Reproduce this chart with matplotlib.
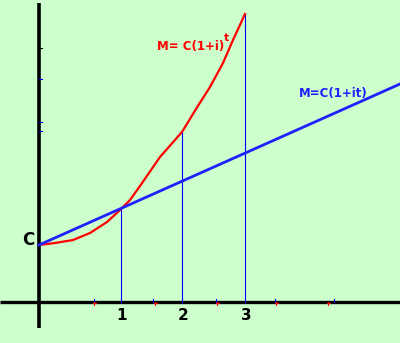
import matplotlib
matplotlib.use("Agg")
import matplotlib.pyplot as plt

# Data (pixel coordinates, y grows downward)
origin = (39, 302)
red_x = [39, 55, 73, 90, 107, 120, 130, 140, 160, 182, 196, 210, 223, 233, 245]
red_y = [245, 243, 240, 233, 222, 210, 200, 186, 157, 132, 109, 87, 63, 40, 14]
blue_x = [39, 400]
blue_y = [245, 84]
tick_pos = [121, 182, 245]
tick_labels = ["1", "2", "3"]
drop_top = [208, 131, 14]
minor_red = [94, 155, 217, 276, 328]
minor_blue = [94, 153, 216, 275, 334]

fig = plt.figure(figsize=(4, 3.43), dpi=100)
fig.patch.set_facecolor("#ccffcc")
ax = fig.add_axes([0, 0, 1, 1])
ax.set_facecolor("#ccffcc")
ax.set_xlim(0, 400)
ax.set_ylim(343, 0)
ax.axis("off")

# axes
ax.plot([0, 400], [origin[1], origin[1]], color="black", lw=2.4, solid_capstyle="butt")
ax.plot([origin[0], origin[0]], [3, 328], color="black", lw=2.6, solid_capstyle="butt")

# small marks on axis
for xm in minor_blue:
    ax.plot([xm, xm], [299, 302], color="blue", lw=0.8)
for xm in minor_red:
    ax.plot([xm, xm], [302, 305], color="red", lw=0.8)
    ax.plot([xm - 1.5, xm + 1.5], [303, 303], color="red", lw=0.8)
for ym, c in [(48, "black"), (79, "blue"), (122, "blue"), (131, "blue")]:
    ax.plot([39, 42], [ym, ym], color=c, lw=0.8)

# vertical drop lines
for xp, yt in zip(tick_pos, drop_top):
    ax.plot([xp, xp], [yt, origin[1]], color="blue", lw=0.8)

# curves
ax.plot(red_x, red_y, color="red", lw=1.6)
ax.plot(blue_x, blue_y, color="#2020ff", lw=2.0)

# tick labels
for xp, lab in zip(tick_pos, tick_labels):
    ax.text(xp + 1, 315, lab, ha="center", va="center", fontsize=11, color="black",
            fontweight="semibold")

ax.text(28, 240, "C", ha="center", va="center", fontsize=12, color="black", fontweight="semibold")
ax.text(157, 50, "M= C(1+i)", ha="left", va="baseline", fontsize=8.5, color="red", fontweight="bold")
ax.text(224, 41, "t", ha="left", va="baseline", fontsize=8, color="red", fontweight="bold")
ax.text(299, 97, "M=C(1+it)", ha="left", va="baseline", fontsize=8.5, color="#2020ff", fontweight="bold")

fig.savefig("out.png", dpi=100, facecolor=fig.get_facecolor())
